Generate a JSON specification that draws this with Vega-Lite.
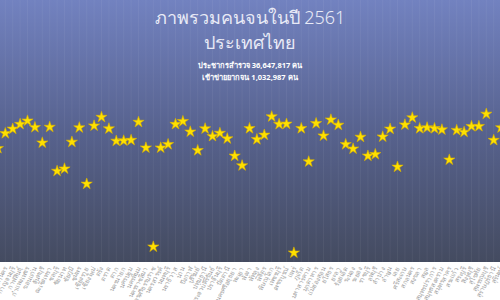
{
  "$schema": "https://vega.github.io/schema/vega-lite/v6.json",
  "width": 500,
  "height": 262,
  "autosize": {"type": "none"},
  "padding": {"left": 0, "right": 0, "top": 0, "bottom": 38},
  "background": "white",
  "title": {
    "text": ["ภาพรวมคนจนในปี 2561", "ประเทศไทย"],
    "subtitle": ["ประชากรสำรวจ 36,647,817 คน", "เข้าข่ายยากจน 1,032,987 คน"],
    "anchor": "middle",
    "frame": "group",
    "offset": -82,
    "font": "Noto Sans",
    "fontSize": 18,
    "fontWeight": 300,
    "color": "#e8eaf6",
    "lineHeight": 25,
    "subtitleFont": "Noto Sans",
    "subtitleFontSize": 7.5,
    "subtitleFontWeight": "bold",
    "subtitleColor": "#ffffff",
    "subtitleLineHeight": 12,
    "subtitlePadding": 9
  },
  "config": {
    "view": {"stroke": null},
    "axis": {
      "title": null,
      "domain": false,
      "ticks": false,
      "grid": false,
      "labelAngle": -62,
      "labelColor": "#a3a3a3",
      "labelFontSize": 6.5,
      "labelPadding": 5,
      "labelOverlap": false,
      "labelFont": "Noto Sans"
    }
  },
  "datasets": {
    "provinces": [
      {"province": "กระบี่", "v": 43.4},
      {"province": "กรุงเทพมหานคร", "v": 49.1},
      {"province": "กาญจนบุรี", "v": 50.8},
      {"province": "กาฬสินธุ์", "v": 52.6},
      {"province": "กำแพงเพชร", "v": 53.9},
      {"province": "ขอนแก่น", "v": 51.4},
      {"province": "จันทบุรี", "v": 45.5},
      {"province": "ฉะเชิงเทรา", "v": 51.5},
      {"province": "ชลบุรี", "v": 34.7},
      {"province": "ชัยนาท", "v": 35.6},
      {"province": "ชัยภูมิ", "v": 45.8},
      {"province": "ชุมพร", "v": 51.3},
      {"province": "เชียงราย", "v": 29.8},
      {"province": "เชียงใหม่", "v": 52.0},
      {"province": "ตรัง", "v": 55.3},
      {"province": "ตราด", "v": 50.9},
      {"province": "ตาก", "v": 46.2},
      {"province": "นครนายก", "v": 46.3},
      {"province": "นครปฐม", "v": 46.5},
      {"province": "นครพนม", "v": 53.4},
      {"province": "นครราชสีมา", "v": 43.6},
      {"province": "นครศรีธรรมราช", "v": 5.8},
      {"province": "นครสวรรค์", "v": 43.6},
      {"province": "นนทบุรี", "v": 44.9},
      {"province": "นราธิวาส", "v": 52.6},
      {"province": "น่าน", "v": 53.7},
      {"province": "บึงกาฬ", "v": 49.7},
      {"province": "บุรีรัมย์", "v": 42.6},
      {"province": "ปทุมธานี", "v": 50.9},
      {"province": "ประจวบคีรีขันธ์", "v": 48.0},
      {"province": "ปราจีนบุรี", "v": 49.2},
      {"province": "ปัตตานี", "v": 47.1},
      {"province": "พระนครศรีอยุธยา", "v": 40.5},
      {"province": "พะเยา", "v": 36.8},
      {"province": "พังงา", "v": 51.0},
      {"province": "พัทลุง", "v": 46.8},
      {"province": "พิจิตร", "v": 48.5},
      {"province": "พิษณุโลก", "v": 55.5},
      {"province": "เพชรบุรี", "v": 52.6},
      {"province": "เพชรบูรณ์", "v": 52.7},
      {"province": "แพร่", "v": 3.5},
      {"province": "ภูเก็ต", "v": 51.0},
      {"province": "มหาสารคาม", "v": 38.3},
      {"province": "มุกดาหาร", "v": 52.9},
      {"province": "แม่ฮ่องสอน", "v": 48.2},
      {"province": "ยโสธร", "v": 54.3},
      {"province": "ยะลา", "v": 52.3},
      {"province": "ร้อยเอ็ด", "v": 44.9},
      {"province": "ระนอง", "v": 43.2},
      {"province": "ระยอง", "v": 47.7},
      {"province": "ราชบุรี", "v": 40.5},
      {"province": "ลพบุรี", "v": 41.1},
      {"province": "ลำปาง", "v": 47.8},
      {"province": "ลำพูน", "v": 50.8},
      {"province": "เลย", "v": 36.3},
      {"province": "ศรีสะเกษ", "v": 52.4},
      {"province": "สกลนคร", "v": 55.1},
      {"province": "สงขลา", "v": 51.0},
      {"province": "สตูล", "v": 51.3},
      {"province": "สมุทรปราการ", "v": 51.0},
      {"province": "สมุทรสงคราม", "v": 50.5},
      {"province": "สมุทรสาคร", "v": 39.0},
      {"province": "สระแก้ว", "v": 50.3},
      {"province": "สระบุรี", "v": 49.6},
      {"province": "สิงห์บุรี", "v": 51.8},
      {"province": "สุโขทัย", "v": 51.8},
      {"province": "สุพรรณบุรี", "v": 56.5},
      {"province": "สุราษฎร์ธานี", "v": 46.5},
      {"province": "สุรินทร์", "v": 51.3}
    ]
  },
  "layer": [
    {
      "data": {"values": [{"bg": 1}]},
      "mark": {
        "type": "rect",
        "color": {
          "gradient": "linear",
          "x1": 0, "y1": 0, "x2": 0, "y2": 1,
          "stops": [
            {"offset": 0, "color": "#7282c0"},
            {"offset": 0.5, "color": "#57628e"},
            {"offset": 1, "color": "#444b60"}
          ]
        }
      },
      "encoding": {
        "x": {"value": 0},
        "x2": {"value": "width"},
        "y": {"value": 0},
        "y2": {"value": "height"}
      }
    },
    {
      "data": {"name": "provinces"},
      "mark": {"type": "rule", "color": "#ffffff", "opacity": 0.05, "strokeWidth": 1},
      "encoding": {
        "x": {
          "field": "province", "type": "nominal", "sort": null,
          "scale": {"type": "point", "range": [-2.1, 501.1], "padding": 0}
        }
      }
    },
    {
      "data": {"name": "provinces"},
      "mark": {
        "type": "point",
        "shape": "M0,-1L0.2245,-0.309L0.9511,-0.309L0.3633,0.118L0.5878,0.809L0,0.382L-0.5878,0.809L-0.3633,0.118L-0.9511,-0.309L-0.2245,-0.309Z",
        "filled": true,
        "size": 140,
        "color": "#ffe100",
        "stroke": "#d8b000",
        "strokeWidth": 0.6,
        "opacity": 1
      },
      "encoding": {
        "x": {
          "field": "province", "type": "nominal", "sort": null,
          "scale": {"type": "point", "range": [-2.1, 501.1], "padding": 0}
        },
        "y": {
          "field": "v", "type": "quantitative",
          "scale": {"domain": [0, 100]},
          "axis": null
        }
      }
    }
  ]
}
